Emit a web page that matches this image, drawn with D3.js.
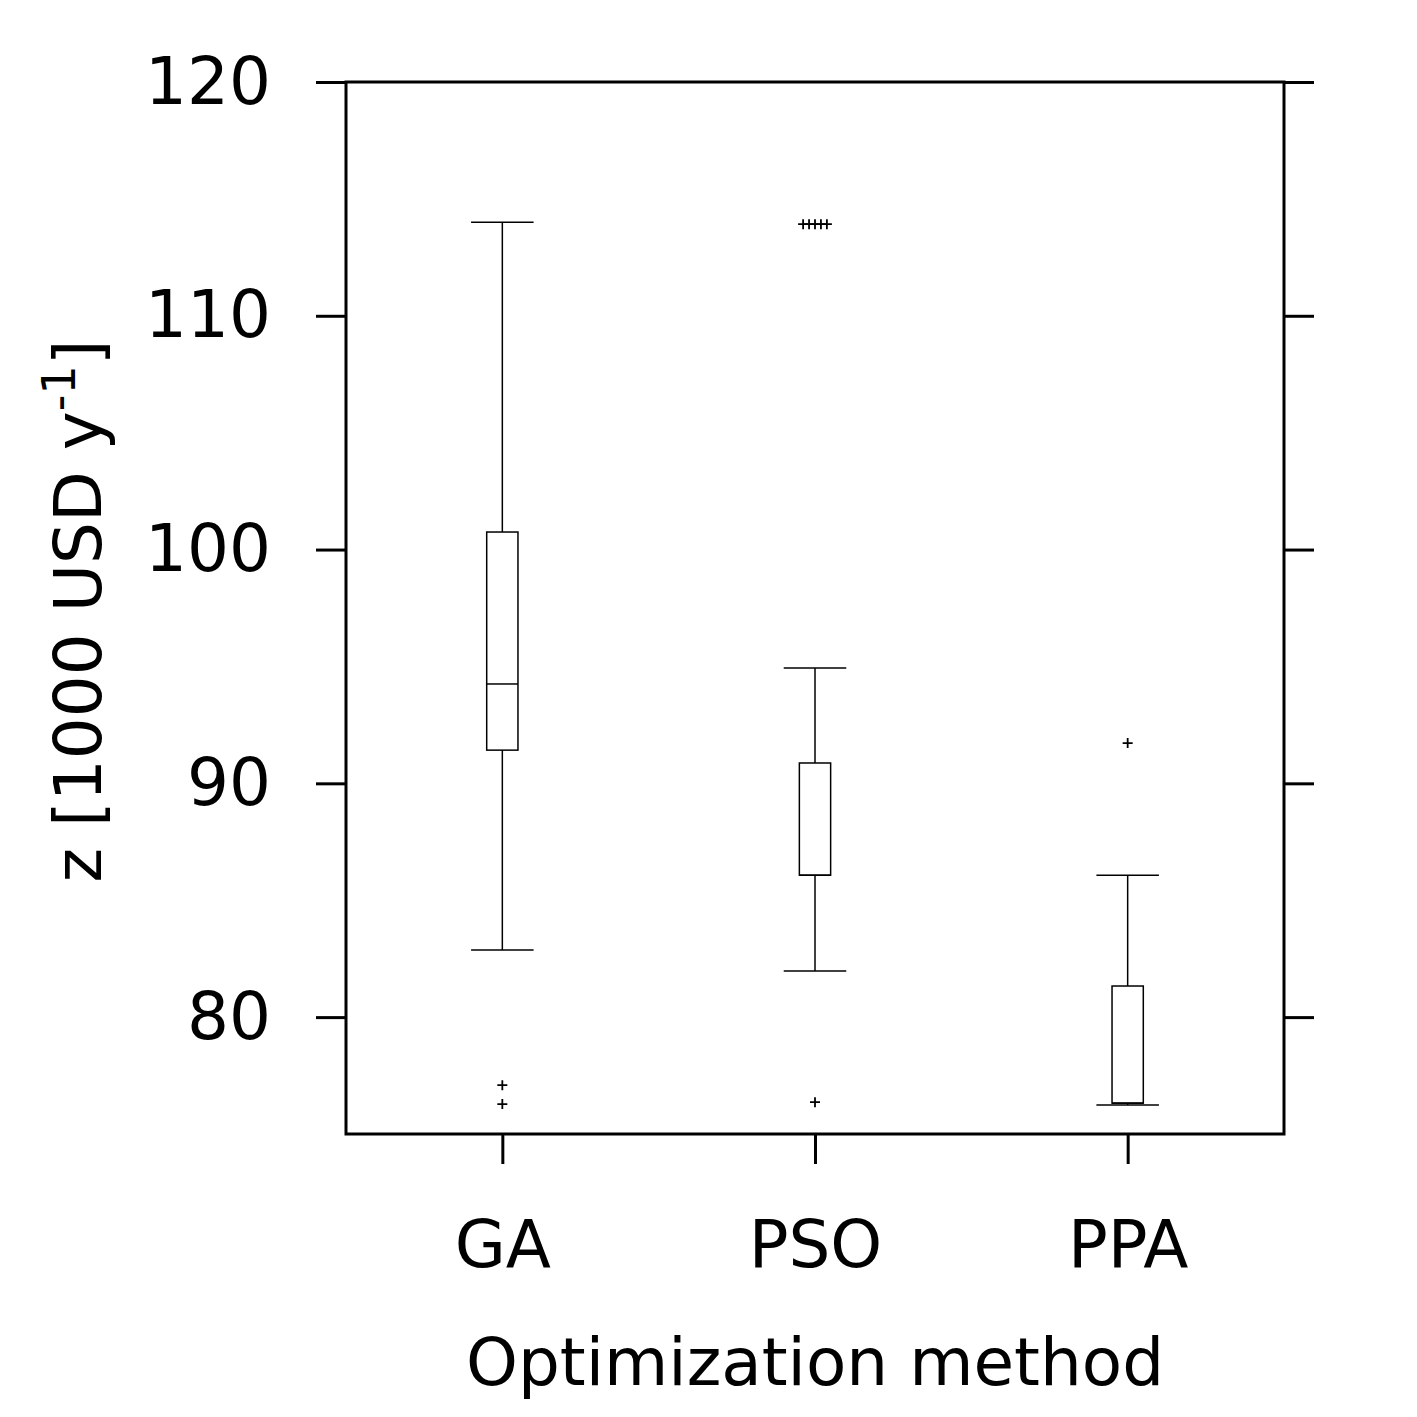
<!DOCTYPE html>
<html>
<head>
<meta charset="utf-8">
<script src="https://cdn.jsdelivr.net/npm/d3@7"></script>
<style>
  html, body { margin: 0; padding: 0; background: #fff; }
  text { font-family: "DejaVu Sans", sans-serif; fill: #000; }
</style>
</head>
<body>
<svg id="chart" width="1417" height="1417"></svg>
<script>
// categories and box statistics (values in 1000 USD per year)
var methods = ['GA', 'PSO', 'PPA'];
var whiskerLow  = [82.87, 81.97, 76.24];
var q1          = [91.42, 86.07, 76.32];
var median      = [94.25, 86.07, 76.32];
var q3          = [100.75, 90.87, 81.33];
var whiskerHigh = [114.0, 94.93, 86.07];
// outliers: [method index, value, small x spread (category units)]
var outliers = [
    [0, 77.09, 0], [0, 76.28, 0],
    [1, 113.92, -0.038], [1, 113.92, -0.019], [1, 113.92, 0], [1, 113.92, 0.019], [1, 113.92, 0.038],
    [1, 76.36, 0],
    [2, 91.72, 0]
];
var yTicks = [80, 90, 100, 110, 120];

var svg = d3.select('#chart');
var pLeft = 346, pRight = 1284, pTop = 82, pBottom = 1134;

var x = d3.scaleLinear().domain([0.5, 3.5]).range([pLeft, pRight]);
var y = d3.scaleLinear().domain([75, 120]).range([pBottom, pTop]);

var boxW = 0.1, capW = 0.2;
var g = svg.append('g');

methods.forEach(function(m, i) {
    var cx = x(i + 1);
    // whiskers
    g.append('line').attr('x1', cx).attr('x2', cx)
        .attr('y1', y(q3[i])).attr('y2', y(whiskerHigh[i]))
        .attr('stroke', '#000').attr('stroke-width', 1.5);
    g.append('line').attr('x1', cx).attr('x2', cx)
        .attr('y1', y(q1[i])).attr('y2', y(whiskerLow[i]))
        .attr('stroke', '#000').attr('stroke-width', 1.5);
    // caps
    [whiskerHigh[i], whiskerLow[i]].forEach(function(v) {
        g.append('line')
            .attr('x1', x(i + 1 - capW / 2)).attr('x2', x(i + 1 + capW / 2))
            .attr('y1', y(v)).attr('y2', y(v))
            .attr('stroke', '#000').attr('stroke-width', 1.5);
    });
    // box
    g.append('rect')
        .attr('x', x(i + 1 - boxW / 2))
        .attr('y', y(q3[i]))
        .attr('width', x(i + 1 + boxW / 2) - x(i + 1 - boxW / 2))
        .attr('height', y(q1[i]) - y(q3[i]))
        .attr('fill', 'none').attr('stroke', '#000').attr('stroke-width', 1.5);
    // median
    g.append('line')
        .attr('x1', x(i + 1 - boxW / 2)).attr('x2', x(i + 1 + boxW / 2))
        .attr('y1', y(median[i])).attr('y2', y(median[i]))
        .attr('stroke', '#000').attr('stroke-width', 1.5);
});

// outliers as '+' markers
g.selectAll('.flier')
    .data(outliers)
    .enter().append('path')
    .attr('class', 'flier')
    .attr('d', 'M-5,0H5M0,-5V5')
    .attr('transform', function(d) {
        return 'translate(' + x(d[0] + 1 + d[2]) + ',' + y(d[1]) + ')';
    })
    .attr('stroke', '#000').attr('stroke-width', 1.8).attr('fill', 'none');

// frame
svg.append('rect')
    .attr('x', pLeft).attr('y', pTop)
    .attr('width', pRight - pLeft).attr('height', pBottom - pTop)
    .attr('fill', 'none').attr('stroke', '#000').attr('stroke-width', 3);

// y axes (left with labels, right ticks only)
var yAxisL = d3.axisLeft(y).tickValues(yTicks).tickSize(30).tickPadding(45);
var gl = svg.append('g').attr('transform', 'translate(' + pLeft + ',0)').call(yAxisL);
var yAxisR = d3.axisRight(y).tickValues(yTicks).tickSize(30).tickFormat('');
var gr = svg.append('g').attr('transform', 'translate(' + pRight + ',0)').call(yAxisR);

// x axis
var xAxis = d3.axisBottom(x).tickValues([1, 2, 3])
    .tickFormat(function(d) { return methods[d - 1]; })
    .tickSize(30).tickPadding(56);
var gx = svg.append('g').attr('transform', 'translate(0,' + pBottom + ')').call(xAxis);

[gl, gr, gx].forEach(function(a) {
    a.select('.domain').remove();
    a.selectAll('.tick line').attr('stroke', '#000').attr('stroke-width', 3);
    a.selectAll('.tick text')
        .style('font-family', '"DejaVu Sans", sans-serif')
        .style('font-size', '66px').attr('fill', '#000');
});

// axis titles
svg.append('text')
    .attr('x', (pLeft + pRight) / 2).attr('y', 1385)
    .attr('text-anchor', 'middle')
    .style('font-size', '66px')
    .text('Optimization method');

var yl = svg.append('text')
    .attr('transform', 'translate(101,' + ((pTop + pBottom) / 2 + 3) + ') rotate(-90)')
    .attr('text-anchor', 'middle')
    .style('font-size', '66px');
yl.append('tspan').text('z [1000 USD y');
yl.append('tspan').attr('dy', -26).style('font-size', '46px').text('-1');
yl.append('tspan').attr('dy', 26).text(']');
</script>
</body>
</html>
